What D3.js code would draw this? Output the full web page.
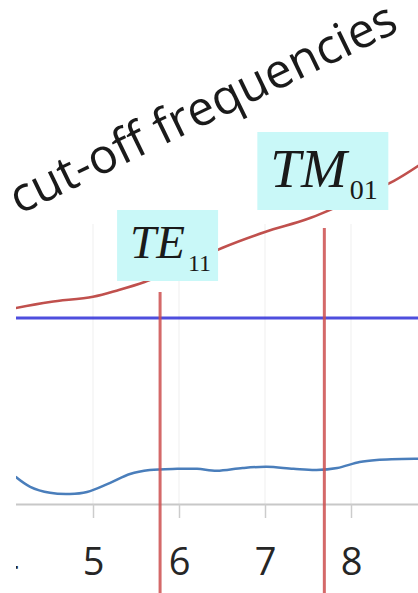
<!DOCTYPE html>
<html>
<head>
<meta charset="utf-8">
<script src="https://cdn.jsdelivr.net/npm/d3@7"></script>
<style>
  html, body { margin: 0; padding: 0; background: #fff; }
  svg { display: block; }
</style>
</head>
<body>
<div id="chart"></div>
<script>
// x ticks shown along the bottom
var xTicks = [4, 5, 6, 7, 8, 9];

// red curve (rising one)
var redX = [4.1, 4.5, 5.0, 5.3, 5.6, 5.8, 6.1, 6.5, 7.0, 7.5, 8.0, 8.5, 8.8];
var redY = [4.9, 5.05, 5.18, 5.35, 5.55, 5.72, 6.0, 6.4, 6.8, 7.13, 7.58, 8.08, 8.48];

// blue wavy curve near the axis
var blueX = [4.1, 4.27, 4.5, 4.73, 4.93, 5.2, 5.43, 5.66, 5.98, 6.21, 6.44, 6.74, 7.02, 7.33, 7.6, 7.84, 8.1, 8.3, 8.74, 8.9];
var blueY = [0.68, 0.43, 0.28, 0.25, 0.30, 0.53, 0.75, 0.85, 0.88, 0.88, 0.83, 0.90, 0.93, 0.88, 0.85, 0.90, 1.05, 1.10, 1.13, 1.13];

// horizontal blue level
var levelY = 4.65;

// cut-off markers
var cutoffX = [5.78, 7.69];
var cutoffTop = [5.3, 6.9];
var cutoffName = ["TE", "TM"];
var cutoffSub = ["11", "01"];

var width = 418, height = 593;

var x = d3.scaleLinear().domain([4, 9]).range([7, 437]);
var y = d3.scaleLinear().domain([0, 12]).range([504, 24]);

var svg = d3.select("#chart")
  .append("svg")
  .attr("width", width)
  .attr("height", height);

svg.append("clipPath")
  .attr("id", "clip")
  .append("rect")
  .attr("x", 16)
  .attr("y", 0)
  .attr("width", width - 16)
  .attr("height", height);

var plot = svg.append("g").attr("clip-path", "url(#clip)");

// faint gridlines
plot.append("g")
  .selectAll("line")
  .data(xTicks)
  .enter()
  .append("line")
  .attr("x1", function (d) { return x(d); })
  .attr("x2", function (d) { return x(d); })
  .attr("y1", y(0))
  .attr("y2", y(7))
  .attr("stroke", "#f5f5f5")
  .attr("stroke-width", 1.5);

// bottom axis
var axis = plot.append("g")
  .attr("transform", "translate(0," + y(0) + ")")
  .call(d3.axisBottom(x)
    .tickValues(xTicks)
    .tickFormat(d3.format("d"))
    .tickSize(14)
    .tickSizeOuter(0));

axis.select(".domain")
  .attr("stroke", "#c8c8c8")
  .attr("stroke-width", 2);
axis.selectAll(".tick line")
  .attr("stroke", "#cccccc")
  .attr("stroke-width", 1.5);
axis.selectAll(".tick text")
  .attr("dy", null)
  .attr("y", 71)
  .style("font-family", "'Open Sans', sans-serif")
  .style("font-size", "38px")
  .attr("fill", "#262626");

// horizontal blue line
plot.append("line")
  .attr("x1", 0)
  .attr("x2", width)
  .attr("y1", y(levelY))
  .attr("y2", y(levelY))
  .attr("stroke", "#2f2fd8")
  .attr("stroke-opacity", 0.85)
  .attr("stroke-width", 3);

// both curves use the same smooth line
var smooth = d3.line()
  .x(function (d) { return x(d[0]); })
  .y(function (d) { return y(d[1]); })
  .curve(d3.curveCatmullRom);

plot.append("path")
  .datum(d3.zip(blueX, blueY))
  .attr("d", smooth)
  .attr("fill", "none")
  .attr("stroke", "#4a7ebb")
  .attr("stroke-width", 2.5);

plot.append("path")
  .datum(d3.zip(redX, redY))
  .attr("d", smooth)
  .attr("fill", "none")
  .attr("stroke", "#c0504d")
  .attr("stroke-width", 2.5);

// vertical cut-off lines
plot.append("g")
  .selectAll("line")
  .data(d3.zip(cutoffX, cutoffTop))
  .enter()
  .append("line")
  .attr("x1", function (d) { return x(d[0]); })
  .attr("x2", function (d) { return x(d[0]); })
  .attr("y1", function (d) { return y(d[1]); })
  .attr("y2", height)
  .attr("stroke", "#cc4f4f")
  .attr("stroke-opacity", 0.85)
  .attr("stroke-width", 3);

// label boxes (layout only)
var boxes = [
  { dx: -43, y: 210, w: 101, h: 71, tdx: -30, ty: 258, fs: 47, sfs: 24, sdy: 13 },
  { dx: -67, y: 132, w: 131, h: 78, tdx: -54, ty: 187, fs: 55, sfs: 28, sdy: 12 }
];

var lab = svg.append("g")
  .selectAll("g")
  .data(cutoffX)
  .enter()
  .append("g");

lab.append("rect")
  .attr("x", function (d, i) { return x(d) + boxes[i].dx; })
  .attr("y", function (d, i) { return boxes[i].y; })
  .attr("width", function (d, i) { return boxes[i].w; })
  .attr("height", function (d, i) { return boxes[i].h; })
  .attr("fill", "#c9f8f8");

var t = lab.append("text")
  .attr("x", function (d, i) { return x(d) + boxes[i].tdx; })
  .attr("y", function (d, i) { return boxes[i].ty; })
  .style("font-family", "'Liberation Serif', 'Times New Roman', serif")
  .attr("fill", "#1a1a1a");

t.append("tspan")
  .style("font-style", "italic")
  .style("font-size", function (d, i) { return boxes[i].fs + "px"; })
  .text(function (d, i) { return cutoffName[i]; });

t.append("tspan")
  .attr("dx", 3)
  .attr("dy", function (d, i) { return boxes[i].sdy; })
  .style("font-size", function (d, i) { return boxes[i].sfs + "px"; })
  .text(function (d, i) { return cutoffSub[i]; });

// rotated title, sized to span the same length as the original
var title = svg.append("text")
  .attr("transform", "translate(19,215) rotate(-25.8)")
  .style("font-family", "'Open Sans', sans-serif")
  .style("font-size", "40px")
  .attr("fill", "#1a1a1a")
  .text("cut-off frequencies");

var len = title.node().getComputedTextLength();
title.style("font-size", (40 * 424 / len) + "px");
</script>
</body>
</html>
